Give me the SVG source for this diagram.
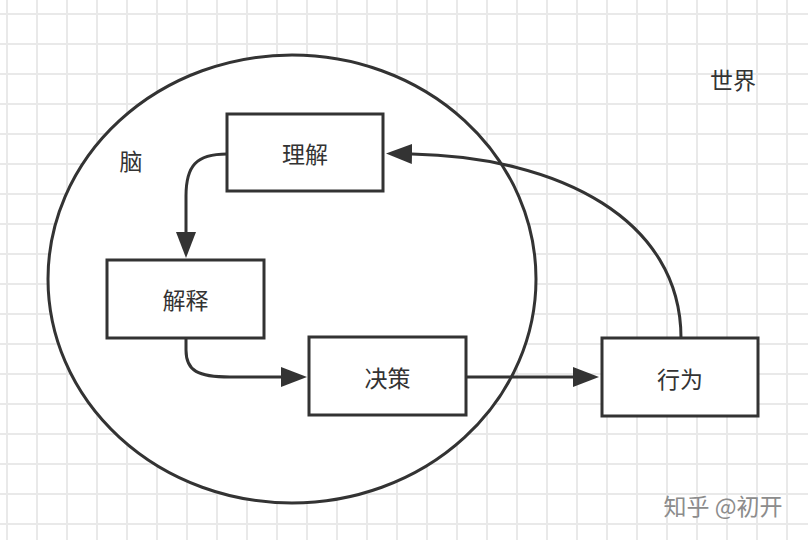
<svg xmlns="http://www.w3.org/2000/svg" width="808" height="540" viewBox="0 0 808 540">
<defs>
<pattern id="grid" patternUnits="userSpaceOnUse" x="-8" y="-1" width="30" height="30">
<path d="M15,0 V30 M0,15 H30" fill="none" stroke="#e9e9e9" stroke-width="2"/>
</pattern>
<marker id="arr" markerUnits="userSpaceOnUse" viewBox="0 0 26 20" refX="0" refY="10" markerWidth="26" markerHeight="20" orient="auto">
<path d="M0,0 L26,10 L0,20 Z" fill="#333"/>
</marker>
</defs>
<style>
.box{fill:#fff;stroke:#333;stroke-width:3}
.lbl{font-family:"Noto Sans CJK SC","Noto Sans",sans-serif;font-size:23px;fill:#333;text-anchor:middle;dominant-baseline:central}
.edge{fill:none;stroke:#333;stroke-width:3;marker-end:url(#arr)}
</style>
<rect x="0" y="0" width="808" height="540" fill="#fff"/>
<rect x="0" y="0" width="808" height="540" fill="url(#grid)"/>
<g id="brain">
<ellipse cx="292" cy="279" rx="244" ry="224" fill="#fff" stroke="#333" stroke-width="3"/>
<text class="lbl" x="131" y="160">脑</text>
</g>
<g id="world">
<text class="lbl" x="733" y="79">世界</text>
</g>
<g id="connectors">
<path class="edge" d="M227,154 C196,154 186,166 186,196 L186,232"/>
<path class="edge" d="M186,338 L186,350 C186,371 198,377 230,377 L281,377"/>
<path class="edge" d="M466,377 L573,377"/>
<path class="edge" d="M681,338 C681,220 560,157 412,154"/>
</g>
<g id="n-lijie">
<rect class="box" x="227" y="114" width="156" height="77"/>
<text class="lbl" x="305" y="153">理解</text>
</g>
<g id="n-jieshi">
<rect class="box" x="107" y="260" width="157" height="78"/>
<text class="lbl" x="185.5" y="299">解释</text>
</g>
<g id="n-juece">
<rect class="box" x="309" y="337" width="157" height="78"/>
<text class="lbl" x="387.5" y="377">决策</text>
</g>
<g id="n-xingwei">
<rect class="box" x="602" y="338" width="156" height="78"/>
<text class="lbl" x="680" y="378">行为</text>
</g>
<g id="watermark">
<text x="723" y="505" font-family="'Noto Sans CJK SC','Noto Sans',sans-serif" font-size="23" fill="#8c8c8c" text-anchor="middle" dominant-baseline="central">知乎 @初开</text>
</g>
</svg>
